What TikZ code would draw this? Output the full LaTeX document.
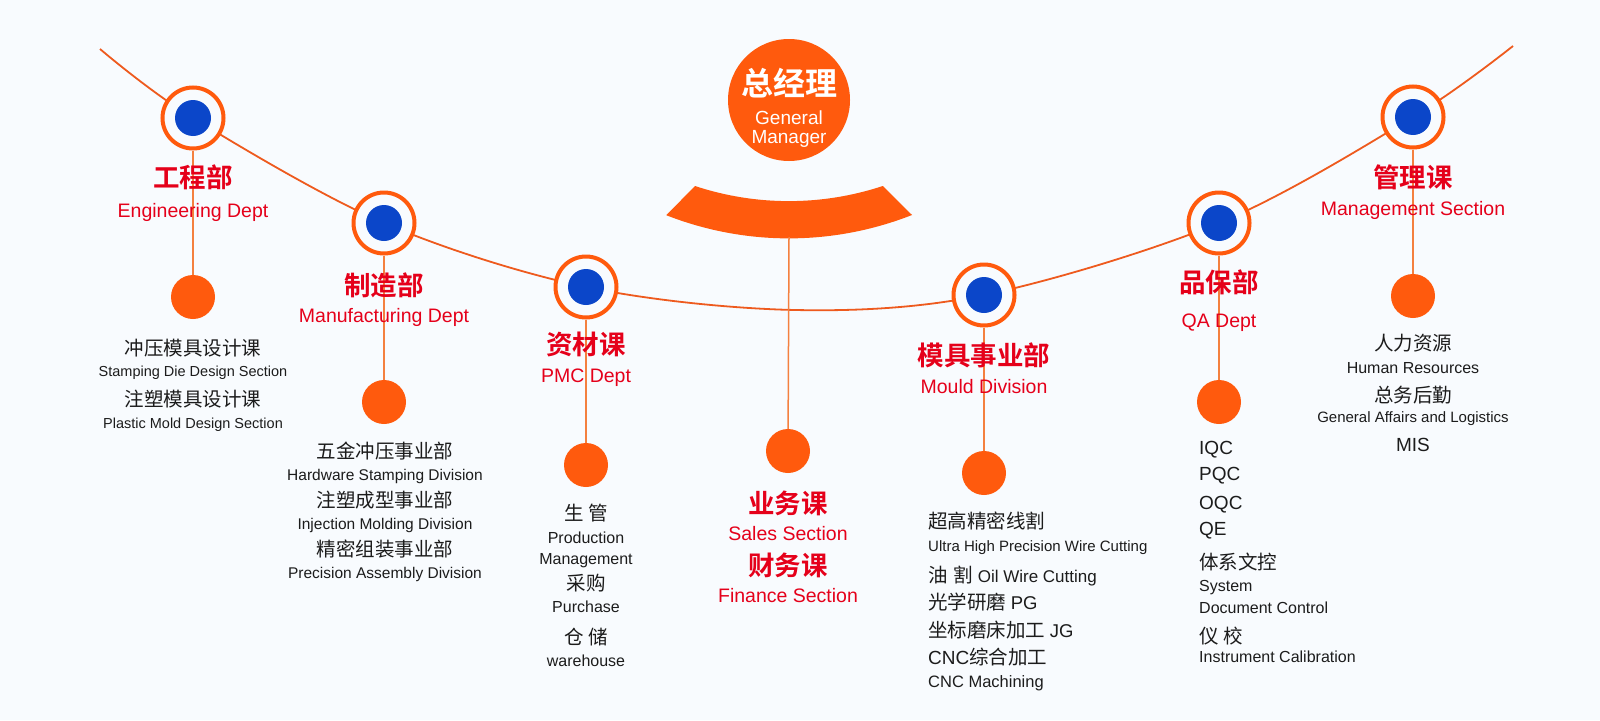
\documentclass[tikz,border=0pt]{standalone}
\usepackage{fontspec}
\setmainfont{Liberation Sans}
\newfontfamily\cjk{Noto Sans CJK SC}
\newfontfamily\cjkbold{Noto Sans CJK SC Bold}

\definecolor{bgpage}{HTML}{F8FBFE}
\definecolor{lineorange}{HTML}{EE5A1E}
\definecolor{stemorange}{HTML}{F4803F}
\definecolor{dotorange}{HTML}{FF5A0D}
\definecolor{dotblue}{HTML}{0B46C9}
\definecolor{headred}{HTML}{E5001A}
\definecolor{textblack}{HTML}{1C1C1C}

\newcommand\zh[1]{{\cjk\fontsize{19.5}{0}\selectfont #1}}
\newcommand\zhhead[1]{{\cjkbold\fontsize{26.5}{0}\selectfont #1}}

\begin{document}
\begin{tikzpicture}[x=1pt, y=-1pt,
	ring/.style={circle, draw=dotorange, line width=4pt, fill=bgpage,
		minimum size=61pt, inner sep=0pt,
		path picture={\fill[dotblue] (path picture bounding box.center) circle[radius=18pt];}},
	dot/.style={circle, fill=dotorange, minimum size=44pt, inner sep=0pt},
	curve/.style={draw=lineorange, line width=1.8pt},
	stem/.style={draw=stemorange, line width=1.5pt},
	head/.style={text=headred, align=center, anchor=north, inner sep=0pt,
		font=\fontsize{19.5}{28}\selectfont},
	sub/.style={text=textblack, align=center, anchor=north, inner sep=0pt},
	list/.style={text=textblack, align=left, anchor=north west, inner sep=0pt}]
	\fill[bgpage] (0,0) rectangle (1600,720);
	\useasboundingbox (0,0) rectangle (1600,720);
	
	% points of the arc
	\coordinate (arcL) at (100,49);
	\coordinate (pEng) at (193,118);
	\coordinate (pMfg) at (384,223);
	\coordinate (pPmc) at (586,287);
	\coordinate (arcLow) at (795,310);
	\coordinate (pMould) at (984,295);
	\coordinate (pQa) at (1219,223);
	\coordinate (pMgmt) at (1413,117);
	\coordinate (arcR) at (1513,46);
	\draw[curve] plot[smooth, tension=0.55] coordinates {(arcL) (pEng) (pMfg) (pPmc) (arcLow) (pMould) (pQa) (pMgmt) (arcR)};
	
	% general manager
	\node[circle, fill=dotorange, minimum size=122pt, inner sep=0pt] (gm) at (789,100) {};
	\node[text=white, align=center, anchor=north, inner sep=0pt,
	font=\fontsize{19}{19}\selectfont] (gmtext) at (789,68) {%
		{\cjkbold\fontsize{32}{0}\selectfont 总经理}\\[9.6pt]
		General\\
		Manager};
	\fill[dotorange] (695,186) arc[start angle=108.3, end angle=71.7, radius=299]
	-- (912,215) arc[start angle=68.5, end angle=111.4, radius=336] -- cycle;
	\coordinate (bandB) at (789,237);
	
	% rings and dots
	\node[ring] (eng) at (pEng) {};
	\node[ring] (mfg) at (pMfg) {};
	\node[ring] (pmc) at (pPmc) {};
	\node[ring] (mould) at (pMould) {};
	\node[ring] (qa) at (pQa) {};
	\node[ring] (mgmt) at (pMgmt) {};
	\node[dot] (engdot) at (193,297) {};
	\node[dot] (mfgdot) at (384,402) {};
	\node[dot] (pmcdot) at (586,465) {};
	\node[dot] (salesdot) at (788,451) {};
	\node[dot] (moulddot) at (984,473) {};
	\node[dot] (qadot) at (1219,402) {};
	\node[dot] (mgmtdot) at (1413,296) {};
	\draw[stem] (eng) -- (engdot);
	\draw[stem] (mfg) -- (mfgdot);
	\draw[stem] (pmc) -- (pmcdot);
	\draw[stem] (bandB) -- (salesdot);
	\draw[stem] (mould) -- (moulddot);
	\draw[stem] (qa) -- (qadot);
	\draw[stem] (mgmt) -- (mgmtdot);
	
	% department titles
	\node[head] (engtitle) at (193,164.5) {\zhhead{工程部}\\[2pt] Engineering Dept};
	\node[head] (mfgtitle) at (384,272.5) {\zhhead{制造部}\\[-1pt] Manufacturing Dept};
	\node[head] (pmctitle) at (586,331.5) {\zhhead{资材课}\\ PMC Dept};
	\node[head] (mouldtitle) at (984,342.5) {\zhhead{模具事业部}\\ Mould Division};
	\node[head] (qatitle) at (1219,269.5) {\zhhead{品保部}\\[7pt] QA Dept};
	\node[head] (mgmttitle) at (1413,164.5) {\zhhead{管理课}\\ Management Section};
	\node[head, font=\fontsize{19.5}{27}\selectfont] (salestitle) at (788,490.5) {%
		\zhhead{业务课}\\
		Sales Section\\[8pt]
		\zhhead{财务课}\\
		Finance Section};
	
	% sections below the dots
	\node[sub, font=\fontsize{14.5}{21.5}\selectfont] (engsub) at (193,338.7) {%
		\zh{冲压模具设计课}\\
		Stamping Die Design Section\\[8.5pt]
		\zh{注塑模具设计课}\\
		Plastic Mold Design Section};
	\node[sub, font=\fontsize{15.5}{22}\selectfont] (mfgsub) at (385,441.7) {%
		\zh{五金冲压事业部}\\
		Hardware Stamping Division\\[5pt]
		\zh{注塑成型事业部}\\
		Injection Molding Division\\[5pt]
		\zh{精密组装事业部}\\
		Precision Assembly Division};
	\node[sub, font=\fontsize{16}{22}\selectfont] (pmcsub) at (586,503.7) {%
		\zh{生 管}\\[1pt]
		Production\\[-1pt]
		Management\\[4pt]
		\zh{采购}\\
		Purchase\\[10pt]
		\zh{仓 储}\\
		warehouse};
	\node[list, font=\fontsize{16.5}{27}\selectfont] (mouldsub) at (928,511.7) {%
		\zh{超高精密线割}\\[-4pt]
		{\fontsize{15}{0}\selectfont Ultra High Precision Wire Cutting}\\[4pt]
		\zh{油\hspace{6pt}割} {\fontsize{17}{0}\selectfont Oil Wire Cutting}\\
		\zh{光学研磨} {\fontsize{18.5}{0}\selectfont PG}\\[1pt]
		\zh{坐标磨床加工} {\fontsize{18.5}{0}\selectfont JG}\\
		{\fontsize{19}{0}\selectfont CNC}\zh{综合加工}\\[-4pt]
		CNC Machining};
	\node[list, font=\fontsize{16}{26}\selectfont] (qasub) at (1199,441) {%
		{\fontsize{19}{0}\selectfont IQC}\\
		{\fontsize{19}{0}\selectfont PQC}\\[3pt]
		{\fontsize{19}{0}\selectfont OQC}\\
		{\fontsize{19}{0}\selectfont QE}\\[8pt]
		\zh{体系文控}\\[-4pt]
		System\\[-3.5pt]
		Document Control\\[3.5pt]
		\zh{仪 校}\\[-6.5pt]
		Instrument Calibration};
	\node[sub, font=\fontsize{15}{23}\selectfont] (mgmtsub) at (1413,333.7) {%
		\zh{人力资源}\\
		{\fontsize{16}{0}\selectfont Human Resources}\\[6.4pt]
		\zh{总务后勤}\\[-3.2pt]
		General Affairs and Logistics\\[5.8pt]
		{\fontsize{19}{0}\selectfont MIS}};
\end{tikzpicture}
\end{document}
